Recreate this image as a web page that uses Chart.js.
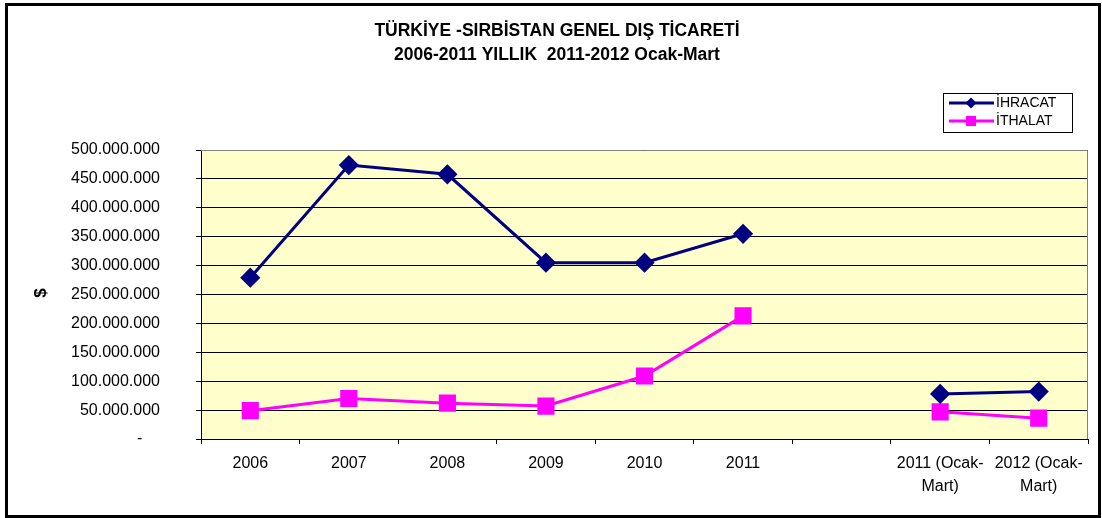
<!DOCTYPE html>
<html>
<head>
<meta charset="utf-8">
<script src="https://cdn.jsdelivr.net/npm/chart.js@4"></script>
<style>
  html, body { margin: 0; padding: 0; background: #fff; }
  #wrap { width: 1102px; height: 518px; }
</style>
</head>
<body>
<div id="wrap"><canvas id="myChart" width="1102" height="518"></canvas></div>
<script>
let years = ['2006', '2007', '2008', '2009', '2010', '2011', '', ['2011 (Ocak-', 'Mart)'], ['2012 (Ocak-', 'Mart)']];
let ihracat = [279000000, 474000000, 458000000, 305000000, 305000000, 355000000, null, 78000000, 82000000];
let ithalat = [49000000, 70000000, 62000000, 57000000, 109000000, 213000000, null, 47000000, 36000000];
let yTicks = [0, 50000000, 100000000, 150000000, 200000000, 250000000, 300000000, 350000000, 400000000, 450000000, 500000000];

let titleLines = ['TÜRKİYE -SIRBİSTAN GENEL DIŞ TİCARETİ', '2006-2011 YILLIK  2011-2012 Ocak-Mart'];

const FONT = '"Liberation Sans", Arial, sans-serif';

function fmt(v) {
    if (v === 0) return '-    ';
    return v.toString().replace(/\B(?=(\d{3})+(?!\d))/g, '.');
}

const frame = {
    id: 'frame',
    beforeDraw(chart) {
        const c = chart.ctx, a = chart.chartArea;
        c.save();
        c.fillStyle = '#fff';
        c.fillRect(0, 0, chart.width, chart.height);
        c.fillStyle = '#FFFFCC';
        c.fillRect(a.left, a.top, a.right - a.left, a.bottom - a.top);
        c.restore();
    },
    afterDraw(chart) {
        const c = chart.ctx, a = chart.chartArea;
        c.save();
        // plot border top/right
        c.strokeStyle = '#808080';
        c.lineWidth = 1;
        c.beginPath();
        c.moveTo(a.left, a.top + 0.5);
        c.lineTo(a.right - 0.5, a.top + 0.5);
        c.lineTo(a.right - 0.5, a.bottom);
        c.stroke();

        // outer frame
        c.strokeStyle = '#000';
        c.lineWidth = 3;
        c.strokeRect(6.5, 4.5, 1093, 512);

        // title
        c.fillStyle = '#000';
        c.font = 'bold 17.5px ' + FONT;
        c.textAlign = 'center';
        c.textBaseline = 'middle';
        c.fillText(titleLines[0], 557, 31);
        c.fillText(titleLines[1], 557, 55);

        // y axis title
        c.save();
        c.translate(41, 293);
        c.rotate(-Math.PI / 2);
        c.font = 'bold 17px ' + FONT;
        c.fillText('$', 0, 0);
        c.restore();

        // legend
        c.lineWidth = 1;
        c.strokeStyle = '#000';
        c.strokeRect(943.5, 93.5, 129, 39);
        const items = [
            { label: 'İHRACAT', color: '#000080', shape: 'diamond', y: 103 },
            { label: 'İTHALAT', color: '#FF00FF', shape: 'square', y: 121 }
        ];
        items.forEach(it => {
            c.strokeStyle = it.color;
            c.fillStyle = it.color;
            c.lineWidth = 3;
            c.beginPath();
            c.moveTo(949, it.y);
            c.lineTo(994, it.y);
            c.stroke();
            c.beginPath();
            if (it.shape === 'diamond') {
                c.moveTo(971, it.y - 5.5);
                c.lineTo(976.5, it.y);
                c.lineTo(971, it.y + 5.5);
                c.lineTo(965.5, it.y);
                c.closePath();
                c.fill();
            } else {
                c.fillRect(966, it.y - 5, 10, 10);
            }
            c.fillStyle = '#000';
            c.font = '14px ' + FONT;
            c.textAlign = 'left';
            c.fillText(it.label, 996, it.y);
        });
        c.restore();
    }
};

let ctx = document.getElementById('myChart').getContext('2d');
let myChart = new Chart(ctx, {
    type: 'line',
    data: {
        labels: years,
        datasets: [{
            label: 'İHRACAT',
            data: ihracat,
            borderColor: '#000080',
            backgroundColor: '#000080',
            borderWidth: 3,
            pointStyle: 'rectRot',
            pointRadius: 8,
            pointHoverRadius: 8,
            spanGaps: false,
            tension: 0
        }, {
            label: 'İTHALAT',
            data: ithalat,
            borderColor: '#FF00FF',
            backgroundColor: '#FF00FF',
            borderWidth: 3,
            pointStyle: 'rect',
            pointRadius: 10,
            pointHoverRadius: 10,
            spanGaps: false,
            tension: 0
        }]
    },
    options: {
        responsive: false,
        animation: false,
        devicePixelRatio: 1,
        layout: { padding: { top: 150, right: 14, left: 0, bottom: 0 } },
        plugins: {
            legend: { display: false },
            title: { display: false },
            tooltip: { enabled: false }
        },
        scales: {
            x: {
                offset: true,
                grid: {
                    offset: true,
                    drawOnChartArea: false,
                    drawTicks: true,
                    tickLength: 5,
                    color: '#000'
                },
                border: { color: '#000', width: 1 },
                ticks: {
                    color: '#000',
                    autoSkip: false,
                    maxRotation: 0,
                    padding: 8,
                    font: { family: FONT, size: 16, lineHeight: 1.44 }
                },
                afterFit(scale) { scale.height = 79; }
            },
            y: {
                min: 0,
                max: 500000000,
                afterBuildTicks(scale) { scale.ticks = yTicks.map(v => ({ value: v })); },
                grid: {
                    color: '#000',
                    tickLength: 5,
                    lineWidth: 1
                },
                border: { color: '#000', width: 1 },
                ticks: {
                    color: '#000',
                    padding: 36,
                    callback: v => fmt(v),
                    font: { family: FONT, size: 16 }
                },
                afterFit(scale) { scale.width = 201; }
            }
        }
    },
    plugins: [frame]
});
</script>
</body>
</html>
